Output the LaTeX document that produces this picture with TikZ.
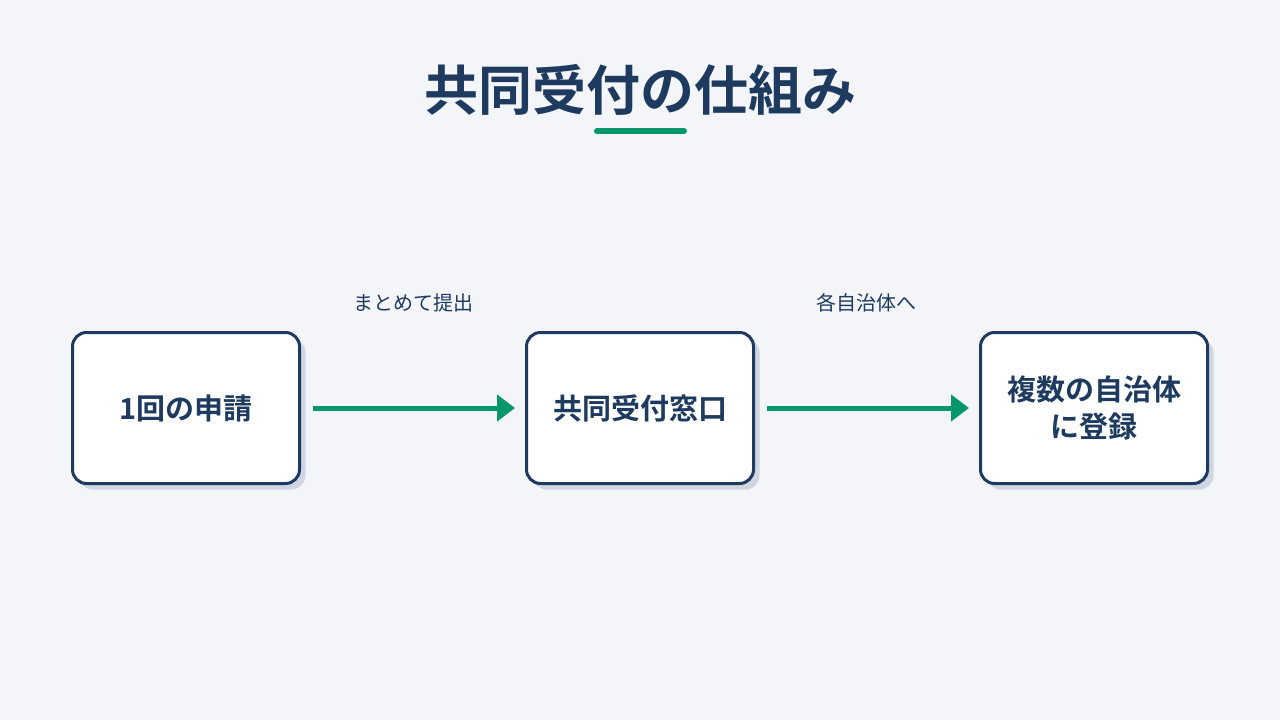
\documentclass[tikz,border=0pt]{standalone}
\usepackage{fontspec}
\setmainfont{Noto Sans CJK JP}[BoldFont={Noto Sans CJK JP Bold}]
\usetikzlibrary{shadows,arrows.meta}
\definecolor{navy}{HTML}{1E3A5F}
\definecolor{flowgreen}{HTML}{059669}
\definecolor{bgpaper}{HTML}{F3F5F8}
\definecolor{shade}{HTML}{CFD6E2}
\tikzset{
    box/.style={draw=navy, line width=3pt, fill=white, rounded corners=14pt,
        minimum width=227pt, minimum height=151pt, align=center, text=navy,
        font=\fontsize{29}{37}\selectfont\bfseries,
        drop shadow={shadow xshift=6pt, shadow yshift=-6pt, fill=shade, opacity=1}},
    flow/.style={flowgreen, line width=5pt, -{Triangle[length=18pt,width=26pt]},
        shorten <=12pt, shorten >=10pt},
    note/.style={text=navy, font=\fontsize{20}{20}\selectfont},
}

\begin{document}
\begin{tikzpicture}[x=1pt,y=-1pt]
\fill[bgpaper] (0,0) rectangle (1280,720);
\useasboundingbox (0,0) rectangle (1280,720);

\node[text=navy, font=\fontsize{54}{54}\selectfont\bfseries] (title) at (640,90) {共同受付の仕組み};
\draw[flowgreen, line width=6pt, line cap=round] (597,131) -- (684,131);

\node[box] (apply) at (186,408) {1回の申請};
\node[box] (desk) at (640,408) {共同受付窓口};
\node[box] (local) at (1094,408) {複数の自治体\\に登録};

\draw[flow] (apply.east) -- (desk.west);
\draw[flow] (desk.east) -- (local.west);

\node[note] (bundle) at (413,303) {まとめて提出};
\node[note] (each) at (866,303) {各自治体へ};
\end{tikzpicture}
\end{document}
